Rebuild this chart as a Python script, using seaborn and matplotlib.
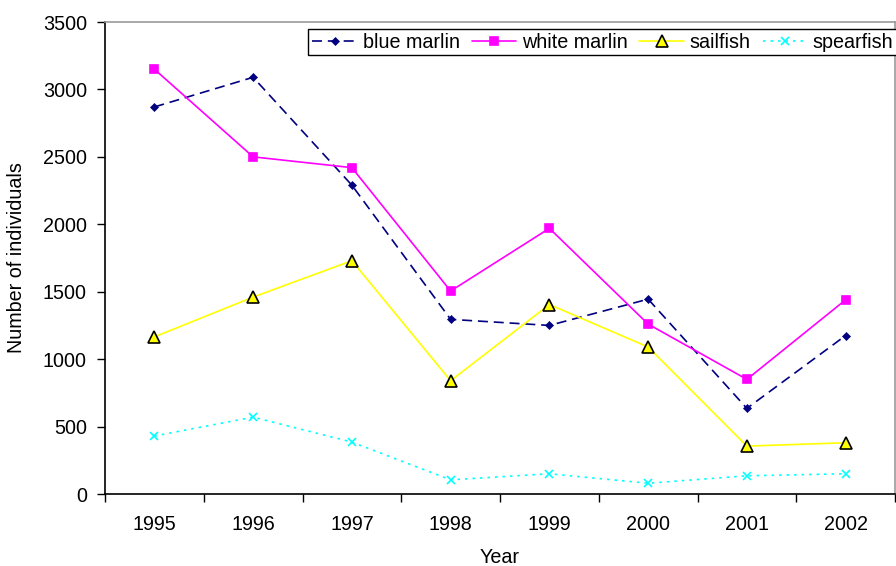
import matplotlib
matplotlib.use("Agg")
import matplotlib.pyplot as plt
import seaborn as sns
import pandas as pd
import numpy as np
from matplotlib.ticker import FixedLocator

years = ["1995", "1996", "1997", "1998", "1999", "2000", "2001", "2002"]
blue_marlin = [2870, 3090, 2290, 1295, 1250, 1445, 635, 1175]
white_marlin = [3150, 2500, 2420, 1505, 1970, 1260, 850, 1440]
sailfish = [1165, 1460, 1730, 840, 1405, 1090, 355, 380]
spearfish = [430, 570, 385, 105, 150, 80, 135, 150]
y_ticks = [0, 500, 1000, 1500, 2000, 2500, 3000, 3500]

sns.set_theme(style="white")
plt.rcParams["font.family"] = ["Liberation Sans", "DejaVu Sans"]
plt.rcParams.update({"text.color": "black", "axes.labelcolor": "black",
                     "xtick.color": "black", "ytick.color": "black"})
FS = 14.2

fig = plt.figure(figsize=(8.96, 5.66), dpi=100)
ax = fig.add_axes([105/896, 72/566, 790/896, 472/566])

x = np.arange(len(years))
series = [
    ("blue marlin", blue_marlin, "#000080", (0, (6, 3.5)), "D", 4.5, "#000080", "#000080"),
    ("white marlin", white_marlin, "#FF00FF", "-", "s", 6, "#FF00FF", "#FF00FF"),
    ("sailfish", sailfish, "#FFFF00", "-", "^", 8, "#FFFF00", "black"),
    ("spearfish", spearfish, "#00FFFF", (0, (1.5, 3)), "x", 6, "#00FFFF", "#00FFFF"),
]
for name, vals, col, ls, mk, ms, fc, ec in series:
    df = pd.DataFrame({"x": x, "y": vals})
    sns.lineplot(data=df, x="x", y="y", ax=ax, color=col, linestyle=ls, linewidth=1.2,
                 marker=mk, markersize=ms, markerfacecolor=fc, markeredgecolor=ec,
                 markeredgewidth=1.2 if mk != "D" else 0.5, label=name)

ax.set_xlim(-0.5, len(years) - 0.5)
ax.set_ylim(0, 3500)
ax.set_yticks(y_ticks)
ax.set_yticklabels([str(v) for v in y_ticks], fontsize=FS)
ax.xaxis.set_major_locator(FixedLocator(np.arange(-0.5, len(years), 1.0)))
ax.xaxis.set_minor_locator(FixedLocator(x))
ax.set_xticklabels([""] * (len(years) + 1))
ax.set_xticks(x, minor=True)
ax.set_xticklabels(years, minor=True, fontsize=FS)
ax.tick_params(axis="x", which="major", direction="out", length=6, width=1, color="black", bottom=True)
ax.tick_params(axis="x", which="minor", length=0, pad=15)
ax.tick_params(axis="y", direction="out", length=6, width=1, color="black", left=True, pad=7)

for s in ["left", "bottom"]:
    ax.spines[s].set_color("black")
    ax.spines[s].set_linewidth(1.2)
for s in ["top", "right"]:
    ax.spines[s].set_color("#999999")
    ax.spines[s].set_linewidth(1.2)

ax.set_xlabel("Year", fontsize=FS, labelpad=10)
ax.set_ylabel("Number of individuals", fontsize=FS, labelpad=12)

leg = ax.legend(loc="upper right", ncol=4, fontsize=FS, frameon=True, fancybox=False,
                edgecolor="black", framealpha=1, borderpad=0.2, handlelength=2.25,
                handletextpad=0.3, columnspacing=0.6, bbox_to_anchor=(1.003, 0.986),
                borderaxespad=0.0)
leg.get_frame().set_linewidth(1.0)

fig.savefig("out.png", dpi=100)
